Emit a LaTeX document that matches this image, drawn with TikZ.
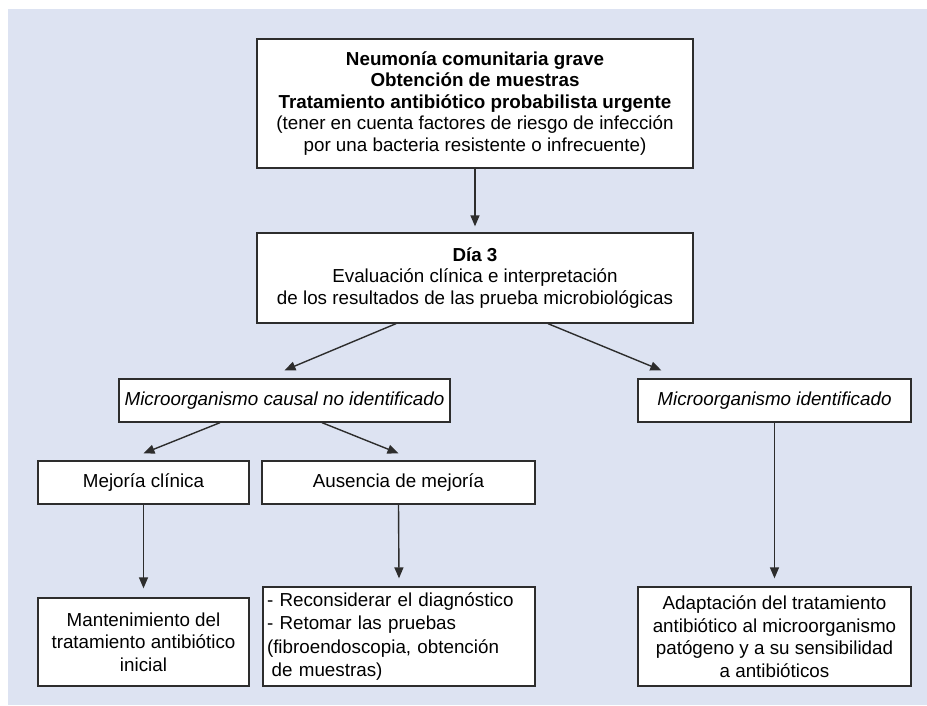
\documentclass[tikz,border=0pt]{standalone}
\usepackage{fontspec}
\setmainfont{Liberation Sans}
\usetikzlibrary{arrows.meta}
\definecolor{panelblue}{RGB}{221,227,242}
\definecolor{linegray}{RGB}{45,45,45}

\begin{document}
\begin{tikzpicture}[x=1pt,y=-1pt,font=\fontsize{18.8}{21.5}\selectfont,
  box/.style={draw=linegray,line width=1.3pt,fill=white,align=center,inner sep=3pt},
  arr/.style={draw=linegray,line width=1.4pt,-{Triangle[length=11pt,width=9pt]}}]
\useasboundingbox (0,0) rectangle (927,705);
\fill[panelblue] (8,9) rectangle (927,705);
\node[box,minimum width=436pt,minimum height=129pt] (top) at (475,103.5)
  {\textbf{Neumonía comunitaria grave}\\\textbf{Obtención de muestras}\\
   \textbf{Tratamiento antibiótico probabilista urgente}\\
   (tener en cuenta factores de riesgo de infección\\
   por una bacteria resistente o infrecuente)};
\node[box,minimum width=436pt,minimum height=90pt] (dia3) at (475,278)
  {\textbf{Día 3}\\Evaluación clínica e interpretación\\
   de los resultados de las prueba microbiológicas};
\node[box,minimum width=331pt,minimum height=43pt] (noid) at (284.5,400.5)
  {\itshape Microorganismo causal no identificado};
\node[box,minimum width=273pt,minimum height=43pt] (sid) at (774.5,400.5)
  {\itshape Microorganismo identificado};
\node[box,minimum width=211pt,minimum height=43pt] (mejora) at (143.5,482.5)
  {Mejoría clínica};
\node[box,minimum width=273pt,minimum height=43pt] (ausencia) at (398.5,482.5)
  {Ausencia de mejoría};
\node[box,minimum width=211pt,minimum height=88pt,font=\fontsize{18.8}{22.5}\selectfont] (mant) at (143.5,642)
  {Mantenimiento del\\tratamiento antibiótico\\inicial};
\node[box,align=left,text width=264pt,inner xsep=4pt,minimum height=99pt,
  font=\fontsize{18.8}{23.5}\selectfont] (recon) at (399,636.5)
  {- Reconsiderar el diagnóstico\\- Retomar las pruebas\\
   (fibroendoscopia, obtención\\\hspace*{0.25em}de muestras)};
\node[box,minimum width=273pt,minimum height=99pt,font=\fontsize{18.8}{22.5}\selectfont] (adapt) at (774.5,636.5)
  {Adaptación del tratamiento\\antibiótico al microorganismo\\
   patógeno y a su sensibilidad\\a antibióticos};
% connectors
\draw[arr] (top.south) -- ([yshift=6pt]dia3.north);
\draw[arr] ([xshift=-79pt]dia3.south) -- ([yshift=8pt]noid.north);
\draw[arr] ([xshift=73pt]dia3.south) -- ([xshift=24pt,yshift=8pt]sid.north west);
\draw[arr] ([xshift=-64.5pt]noid.south) -- ([yshift=7pt]mejora.north);
\draw[arr] ([xshift=37.5pt]noid.south) -- ([yshift=7pt]ausencia.north);
\draw[arr] (mejora.south) -- ([yshift=9pt]mant.north);
\draw[arr] (ausencia.south) -- ([yshift=8pt]recon.north);
\draw[arr] (sid.south) -- ([yshift=8pt]adapt.north);
\end{tikzpicture}
\end{document}
